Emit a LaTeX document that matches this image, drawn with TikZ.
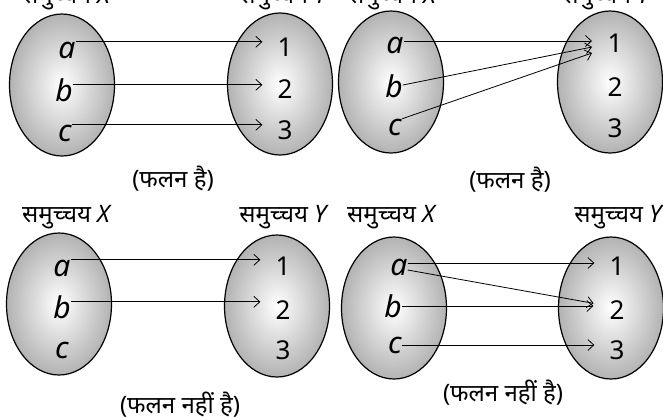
\documentclass[tikz,border=0pt]{standalone}
\usepackage{fontspec}
\setmainfont{Noto Sans}
\newfontfamily\hindi[Script=Devanagari]{Noto Sans}
\usepackage{tikz}
\usetikzlibrary{positioning,arrows.meta,shapes.geometric}

\begin{document}
\begin{tikzpicture}[x=1pt,y=-1pt,>={Straight Barb[length=6pt,width=11pt]},
  set/.style={ellipse,draw,line width=1.2pt,shade,inner color=white,outer color=gray!60,minimum width=105pt,minimum height=142pt},
  elem/.style={font=\fontsize{30}{30}\selectfont\itshape,inner sep=0pt,text height=16pt,text depth=0pt},
  num/.style={font=\fontsize{26}{26}\selectfont,inner sep=1pt},
  lbl/.style={font=\hindi\fontsize{24}{24}\selectfont,inner sep=0pt},
  caption/.style={font=\hindi\fontsize{24}{24}\selectfont,inner sep=0pt},
  map/.style={->,line width=0.8pt}]
  \useasboundingbox (0,0) rectangle (663,416);

  % Top left: one to one
  \node[set] (X1) at (62,85) {};
  \node[set] (Y1) at (280,84) {};
  \node[lbl] (lx1) at (67,-2) {समुच्चय \textit{X}};
  \node[lbl] (ly1) at (284,-2) {समुच्चय \textit{Y}};
  \node[elem] (a1) at (67,50) {a};
  \node[elem] (b1) at (64,93) {b};
  \node[elem] (c1) at (65,133) {c};
  \node[num] (one1) at (285,47) {1};
  \node[num] (two1) at (285,89) {2};
  \node[num] (three1) at (285,130) {3};
  \node[caption] (cap1) at (173,179) {(फलन है)};
  \draw[map,shorten >=14pt] (a1.north east) -- (a1.north east -| one1.west);
  \draw[map,shorten >=14pt] (b1.north east) -- (b1.north east -| two1.west);
  \draw[map,shorten >=14pt] (c1.north east) -- (c1.north east -| three1.west);

  % Top right: all onto 1
  \node[set] (X2) at (391,82) {};
  \node[set] (Y2) at (610,82) {};
  \node[lbl] (lx2) at (393,-2) {समुच्चय \textit{X}};
  \node[lbl] (ly2) at (607,-2) {समुच्चय \textit{Y}};
  \node[elem] (a2) at (395,45) {a};
  \node[elem] (b2) at (394,89) {b};
  \node[elem] (c2) at (395,127) {c};
  \node[num] (one2) at (615,43) {1};
  \node[num] (two2) at (615,87) {2};
  \node[num] (three2) at (615,128) {3};
  \node[caption] (cap2) at (510,180) {(फलन है)};
  \coordinate (t2a) at (592,41);
  \coordinate (t2b) at (592,47);
  \coordinate (t2c) at (592,53);
  \draw[map] ([yshift=4pt]a2.east) -- (t2a);
  \draw[map] ([yshift=4pt]b2.east) -- (t2b);
  \draw[map] (c2.north east) -- (t2c);

  % Bottom left: c has no image
  \node[set] (X3) at (59,304) {};
  \node[set] (Y3) at (277,306) {};
  \node[lbl] (lx3) at (67,217) {समुच्चय \textit{X}};
  \node[lbl] (ly3) at (284,217) {समुच्चय \textit{Y}};
  \node[elem] (a3) at (62,268) {a};
  \node[elem] (b3) at (62,310) {b};
  \node[elem] (c3) at (62,350) {c};
  \node[num] (one3) at (283,266) {1};
  \node[num] (two3) at (283,310) {2};
  \node[num] (three3) at (283,350) {3};
  \node[caption] (cap3) at (180,405) {(फलन नहीं है)};
  \draw[map,shorten >=14pt] (a3.north east) -- (a3.north east -| one3.west);
  \draw[map,shorten >=14pt] (b3.north east) -- (b3.north east -| two3.west);

  % Bottom right: a has two images
  \node[set] (X4) at (394,308) {};
  \node[set] (Y4) at (611,308) {};
  \node[lbl] (lx4) at (392,217) {समुच्चय \textit{X}};
  \node[lbl] (ly4) at (619,217) {समुच्चय \textit{Y}};
  \node[elem] (a4) at (399,267) {a};
  \node[elem] (b4) at (393,309) {b};
  \node[elem] (c4) at (395,345) {c};
  \node[num] (one4) at (617,266) {1};
  \node[num] (two4) at (617,310) {2};
  \node[num] (three4) at (617,350) {3};
  \node[caption] (cap4) at (503,393) {(फलन नहीं है)};
  \draw[map,shorten >=14pt] ([yshift=4pt]a4.east) -- ([yshift=4pt]a4.east -| one4.west);
  \draw[map,shorten >=15pt] ([yshift=-3pt]a4.east) -- ([yshift=4pt]two4.west);
  \draw[map,shorten >=15pt] ([yshift=3pt]b4.east) -- ([yshift=4pt]two4.west);
  \draw[map,shorten >=14pt] (c4.east) -- (c4.east -| three4.west);
\end{tikzpicture}
\end{document}
